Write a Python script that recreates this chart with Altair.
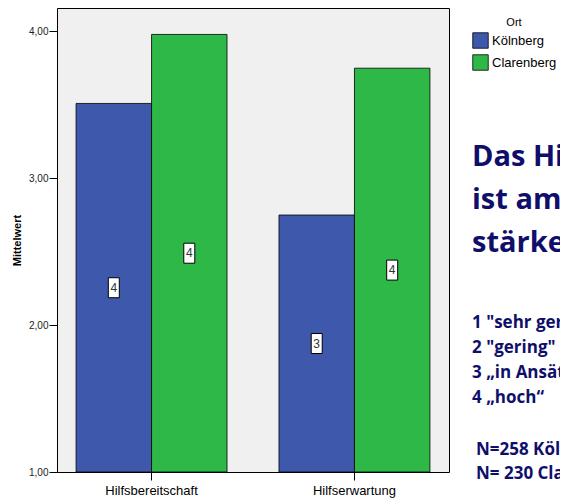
import altair as alt
import pandas as pd

categories = ["Hilfsbereitschaft", "Hilfserwartung"]
orte = ["Kölnberg", "Clarenberg"]
koelnberg_means = [3.51, 2.75]
clarenberg_means = [3.98, 3.75]
koelnberg_labels = ["4", "3"]
clarenberg_labels = ["4", "4"]
y_ticks = [1, 2, 3, 4]
colors = ["#3e58ac", "#2eb848"]

headline_lines = ["Das Hilfsverhalten", "ist am Clarenberg", "stärker"]
scale_lines = ['1 "sehr gering"', '2 "gering"', '3 „in Ansätzen“', '4 „hoch“']
n_lines = ["N=258 Kölnberg", "N= 230 Clarenberg"]

rows = []
for i, c in enumerate(categories):
    rows.append({"Kategorie": c, "Ort": orte[0], "Mittelwert": koelnberg_means[i], "Label": koelnberg_labels[i]})
    rows.append({"Kategorie": c, "Ort": orte[1], "Mittelwert": clarenberg_means[i], "Label": clarenberg_labels[i]})
df = pd.DataFrame(rows)

FONT = "Liberation Sans"
NAVY = "#0f0f6b"

x_enc = alt.X("Kategorie:N", sort=categories,
              scale=alt.Scale(paddingInner=0.256, paddingOuter=0.094),
              axis=alt.Axis(title=None, labelAngle=0, domain=False, ticks=True,
                            tickSize=8, tickColor="black", labelFontSize=13,
                            labelFont=FONT, labelColor="black", labelPadding=4))
xoff = alt.XOffset("Ort:N", sort=orte, scale=alt.Scale(paddingInner=0, paddingOuter=0))
y_scale = alt.Scale(domain=[1, 4.16], nice=False, zero=False)

base = alt.Chart(df)

bars = base.mark_bar(stroke="black", strokeWidth=0.8).encode(
    x=x_enc,
    xOffset=xoff,
    y=alt.Y("Mittelwert:Q", scale=y_scale,
            axis=alt.Axis(values=y_ticks, grid=False, domain=False,
                          labelExpr="replace(format(datum.value, '.2f'), '.', ',')",
                          tickSize=8, tickColor="black", labelFontSize=10,
                          labelFont=FONT, labelColor="#222", labelPadding=1,
                          title="Mittelwert", titleFont=FONT, titleFontSize=11,
                          titleFontWeight="bold", titleColor="black", titlePadding=6)),
    y2=alt.Y2(datum=1),
    color=alt.Color("Ort:N", sort=orte, scale=alt.Scale(domain=orte, range=colors),
                    legend=alt.Legend(title="Ort", orient="none", legendX=415, legendY=9,
                                      titleFont=FONT, titleFontSize=11, titleFontWeight="normal",
                                      titleColor="black", titleAnchor="middle", titleAlign="center",
                                      titlePadding=4, labelFont=FONT, labelFontSize=13,
                                      labelColor="black", symbolType="square", symbolSize=240,
                                      symbolStrokeColor="black", symbolStrokeWidth=0.8,
                                      symbolOpacity=1, rowPadding=3, labelOffset=3)),
)

mid = base.transform_calculate(mid="(datum.Mittelwert + 1) / 2")

boxes = mid.mark_point(shape="M-0.55,-1L0.55,-1L0.55,1L-0.55,1Z", size=400, filled=True,
                       fill="white", stroke="black", strokeWidth=1, opacity=1).encode(
    x=alt.X("Kategorie:N", sort=categories),
    xOffset=alt.XOffset("Ort:N", sort=orte),
    y=alt.Y("mid:Q", scale=y_scale),
)

texts = mid.mark_text(font=FONT, fontSize=12, color="#333", baseline="middle").encode(
    x=alt.X("Kategorie:N", sort=categories),
    xOffset=alt.XOffset("Ort:N", sort=orte),
    y=alt.Y("mid:Q", scale=y_scale),
    text="Label:N",
)

headline = alt.Chart(pd.DataFrame({"t": ["\n".join(headline_lines)]})).mark_text(
    font="Open Sans", fontSize=29, fontWeight="bold", color=NAVY, align="left",
    baseline="alphabetic", lineBreak="\n", lineHeight=43).encode(
    text="t:N", x=alt.value(415), y=alt.value(158))

scale_block = alt.Chart(pd.DataFrame({"t": ["\n".join(scale_lines)]})).mark_text(
    font="Open Sans", fontSize=17, fontWeight="bold", color=NAVY, align="left",
    baseline="alphabetic", lineBreak="\n", lineHeight=25).encode(
    text="t:N", x=alt.value(415), y=alt.value(320))

n_block = alt.Chart(pd.DataFrame({"t": ["\n".join(n_lines)]})).mark_text(
    font="Open Sans", fontSize=17, fontWeight="bold", color=NAVY, align="left",
    baseline="alphabetic", lineBreak="\n", lineHeight=24).encode(
    text="t:N", x=alt.value(419), y=alt.value(447))

chart = alt.layer(bars, boxes, texts, headline, scale_block, n_block).properties(
    width=392, height=464,
    autosize=alt.AutoSizeParams(type="none"),
    padding={"left": 49, "top": 0, "right": 111, "bottom": 29},
    background="white",
).configure_view(fill="#f0f0f0", stroke="black", strokeWidth=1)

chart.save("out.html", embed_options={"renderer": "svg", "actions": False})
